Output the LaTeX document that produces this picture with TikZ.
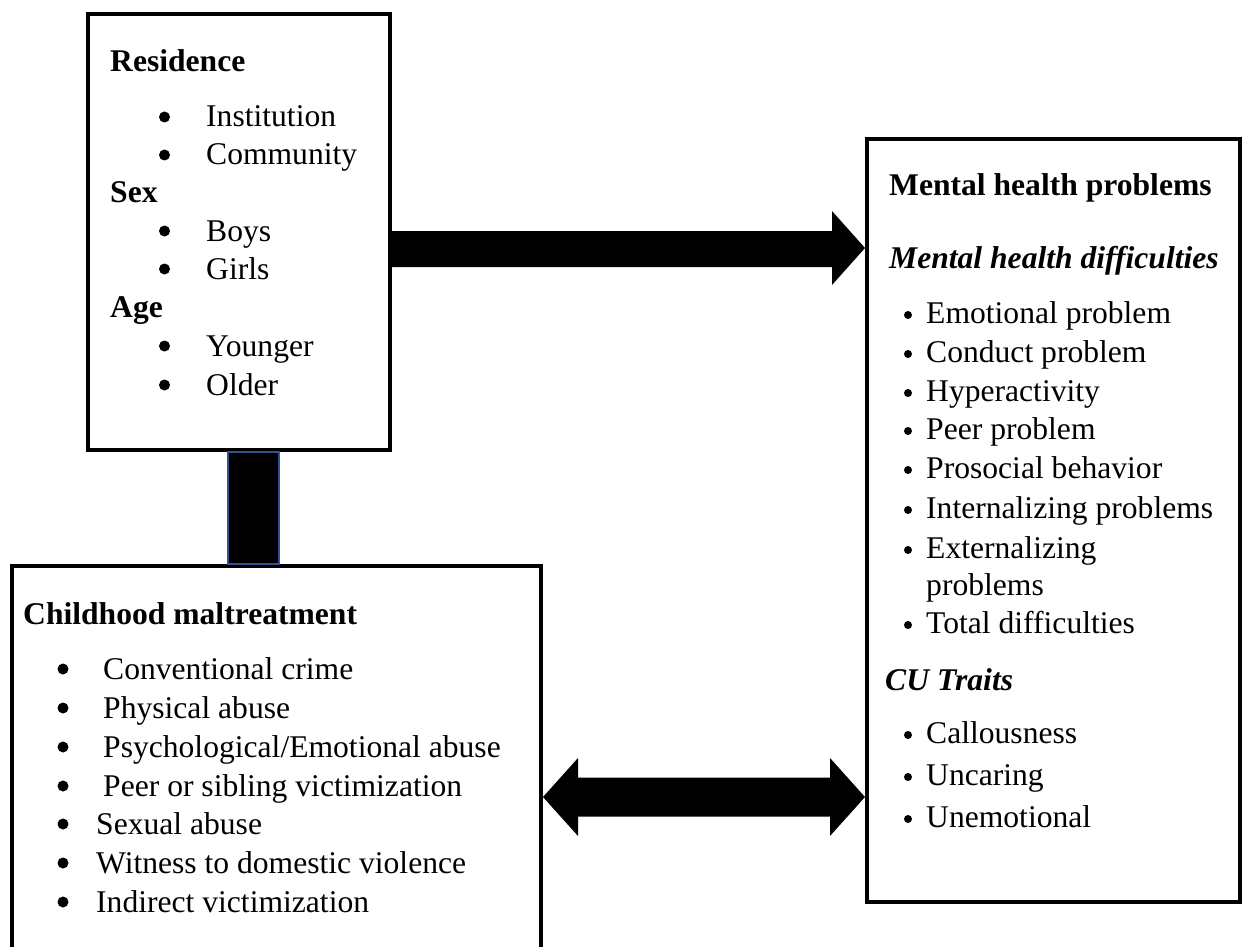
\documentclass[tikz,border=0pt]{standalone}
\usepackage{fontspec}
\setmainfont{Liberation Serif}
\usetikzlibrary{calc}
\definecolor{linkblue}{RGB}{47,82,143}
\begin{document}
\begin{tikzpicture}[x=1pt,y=-1pt,
  box/.style={draw=black, line width=4pt, inner sep=0pt, fill=none},
  txt/.style={anchor=base west, inner sep=0pt, font=\fontsize{31.6}{38}\selectfont},
  hd/.style={txt, font=\fontsize{31.6}{38}\selectfont\bfseries},
  hdi/.style={txt, font=\fontsize{31.6}{38}\selectfont\bfseries\itshape},
  bigbul/.style={circle, fill=black, inner sep=0pt, minimum size=11pt},
  smallbul/.style={circle, fill=black, inner sep=0pt, minimum size=8pt},
  conn/.style={fill=black, draw=linkblue, line width=1.3pt},
  fat/.style={fill=black, draw=none}]
\clip (0,0) rectangle (1243,947);
\fill[white] (0,0) rectangle (1243,947);

% boxes
\node[box, minimum width=302pt, minimum height=436pt] (resbox) at (239,232) {};
\node[box, minimum width=373pt, minimum height=763pt] (mhbox) at (1053.5,520.5) {};
\node[box, minimum width=529pt, minimum height=440pt] (cmbox) at (276.5,786) {};

% link between residence box and maltreatment box
\coordinate (lx) at (228,0);
\coordinate (rx) at (279,0);
\draw[conn] (lx |- resbox.south) rectangle (rx |- cmbox.north);

% single arrow
\coordinate (y1) at (0,248);
\fill[fat] ($(resbox.east |- y1)+(0,-17)$) -- ($(mhbox.west |- y1)+(-33,-17)$)
  -- ($(mhbox.west |- y1)+(-33,-37)$) -- (mhbox.west |- y1)
  -- ($(mhbox.west |- y1)+(-33,37)$) -- ($(mhbox.west |- y1)+(-33,19)$)
  -- ($(resbox.east |- y1)+(0,19)$) -- cycle;

% double arrow
\coordinate (y2) at (0,797);
\fill[fat] (cmbox.east |- y2) -- ($(cmbox.east |- y2)+(35,-39)$) -- ($(cmbox.east |- y2)+(35,-19.5)$)
  -- ($(mhbox.west |- y2)+(-35,-19.5)$) -- ($(mhbox.west |- y2)+(-35,-39)$)
  -- (mhbox.west |- y2) -- ($(mhbox.west |- y2)+(-35,39)$) -- ($(mhbox.west |- y2)+(-35,19.5)$)
  -- ($(cmbox.east |- y2)+(35,19.5)$) -- ($(cmbox.east |- y2)+(35,39)$) -- cycle;

% Residence box text
\node[hd] (t1) at (110,72) {Residence};
\node[bigbul] (b1) at (164.5,117) {};
\node[txt] (t2) at (206,127) {Institution};
\node[bigbul] (b2) at (164.5,155) {};
\node[txt] (t3) at (206,165) {Community};
\node[hd] (t4) at (110,202) {Sex};
\node[bigbul] (b3) at (164.5,231) {};
\node[txt] (t5) at (206,241) {Boys};
\node[bigbul] (b4) at (164.5,269) {};
\node[txt] (t6) at (206,279) {Girls};
\node[hd] (t7) at (110,317) {Age};
\node[bigbul] (b5) at (164.5,346) {};
\node[txt] (t8) at (206,356) {Younger};
\node[bigbul] (b6) at (164.5,385) {};
\node[txt] (t9) at (206,395) {Older};

% Mental health box text
\node[hd] (m1) at (889,196) {Mental health problems};
\node[hdi] (m2) at (889,268) {Mental health difficulties};
\node[smallbul] (mb1) at (908,315) {};
\node[txt] (m3) at (926,323) {Emotional problem};
\node[smallbul] (mb2) at (908,354) {};
\node[txt] (m4) at (926,362) {Conduct problem};
\node[smallbul] (mb3) at (908,393) {};
\node[txt] (m5) at (926,401) {Hyperactivity};
\node[smallbul] (mb4) at (908,431) {};
\node[txt] (m6) at (926,439) {Peer problem};
\node[smallbul] (mb5) at (908,470) {};
\node[txt] (m7) at (926,478) {Prosocial behavior};
\node[smallbul] (mb6) at (908,510) {};
\node[txt] (m8) at (926,518) {Internalizing problems};
\node[smallbul] (mb7) at (908,550) {};
\node[txt] (m9) at (926,558) {Externalizing};
\node[txt] (m10) at (926,595) {problems};
\node[smallbul] (mb8) at (908,625) {};
\node[txt] (m11) at (926,633) {Total difficulties};
\node[hdi] (m12) at (885,690) {CU Traits};
\node[smallbul] (mb9) at (908,735) {};
\node[txt] (m13) at (926,743) {Callousness};
\node[smallbul] (mb10) at (908,777) {};
\node[txt] (m14) at (926,785) {Uncaring};
\node[smallbul] (mb11) at (908,819) {};
\node[txt] (m15) at (926,827) {Unemotional};

% Childhood maltreatment box text
\node[hd] (c1) at (23,624) {Childhood maltreatment};
\node[bigbul] (cb1) at (63,669) {};
\node[txt] (c2) at (103,679) {Conventional crime};
\node[bigbul] (cb2) at (63,708) {};
\node[txt] (c3) at (103,718) {Physical abuse};
\node[bigbul] (cb3) at (63,747) {};
\node[txt] (c4) at (103,757) {Psychological/Emotional abuse};
\node[bigbul] (cb4) at (63,786) {};
\node[txt] (c5) at (103,796) {Peer or sibling victimization};
\node[bigbul] (cb5) at (63,824) {};
\node[txt] (c6) at (96,834) {Sexual abuse};
\node[bigbul] (cb6) at (63,863) {};
\node[txt] (c7) at (96,873) {Witness to domestic violence};
\node[bigbul] (cb7) at (63,902) {};
\node[txt] (c8) at (96,912) {Indirect victimization};
\end{tikzpicture}
\end{document}
